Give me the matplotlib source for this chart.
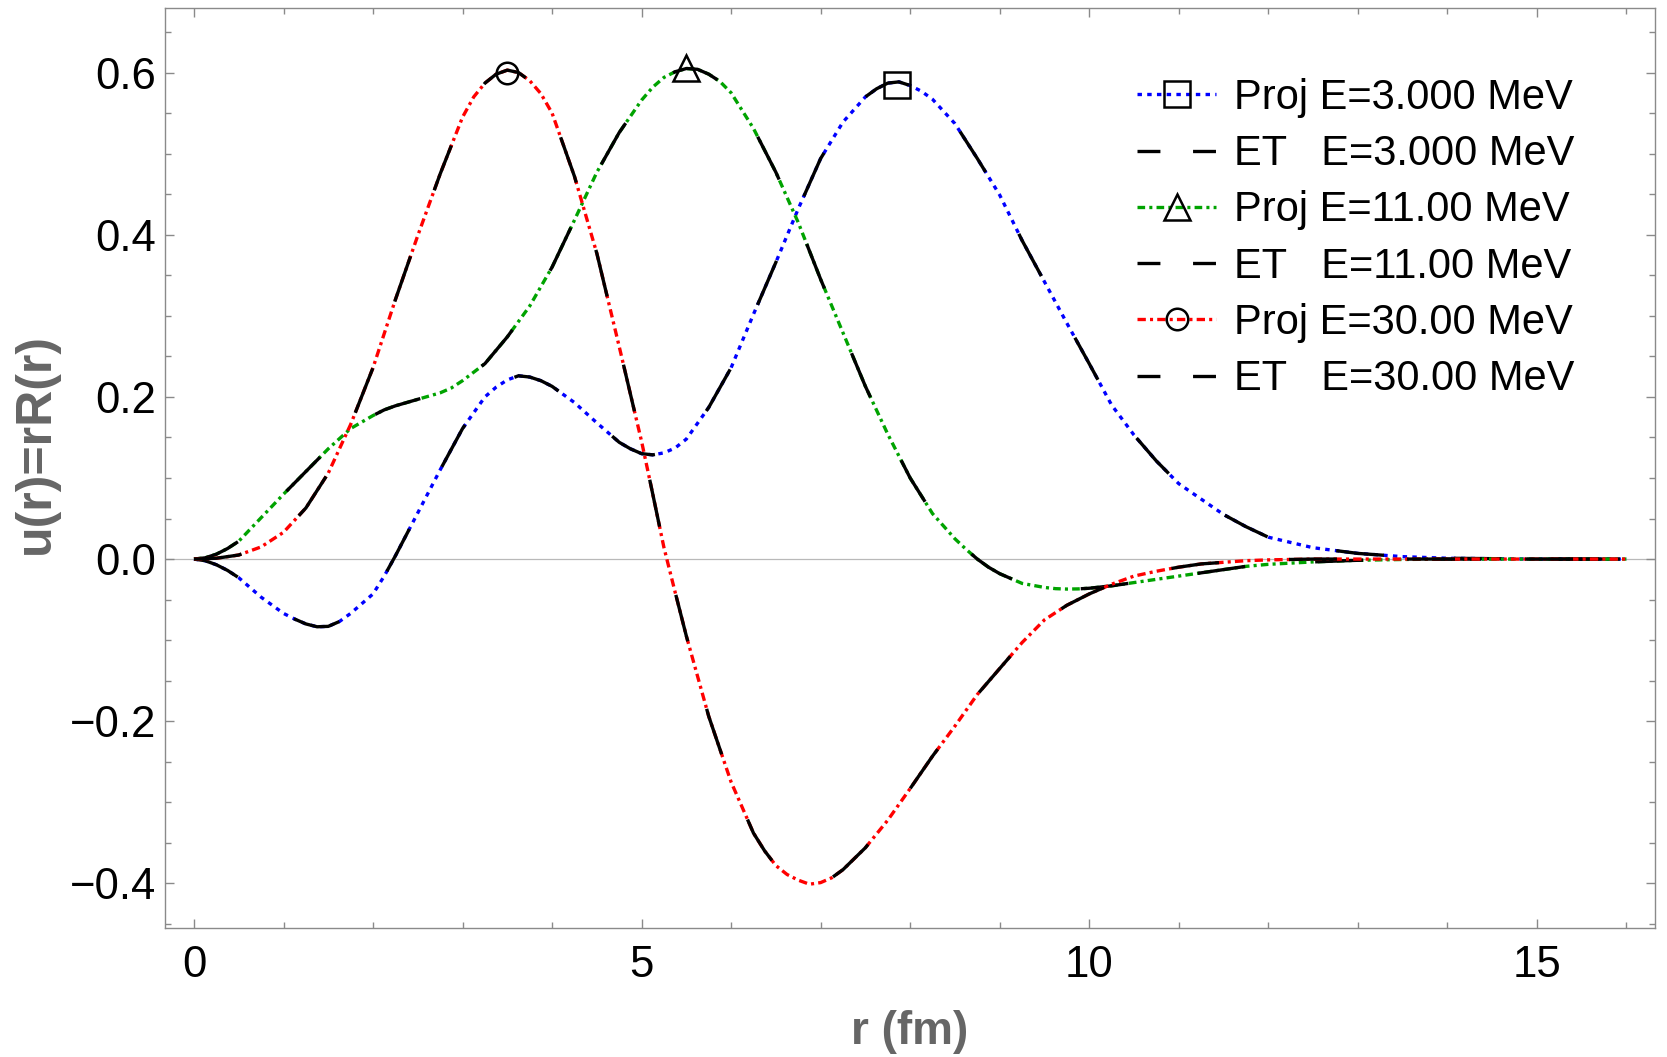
import matplotlib
matplotlib.use("Agg")
import matplotlib.pyplot as plt
from matplotlib.lines import Line2D
from matplotlib.ticker import MultipleLocator, FuncFormatter

plt.rcParams["font.family"] = ["Liberation Sans", "DejaVu Sans"]
plt.rcParams["lines.scale_dashes"] = False

# E = 3 MeV
r_3 = [0.0, 0.125, 0.25, 0.375, 0.5, 0.75, 1.0, 1.125, 1.25, 1.375,
       1.5, 1.625, 1.75, 2.0, 2.125, 2.25, 2.5, 2.75, 3.0, 3.25,
       3.375, 3.5, 3.625, 3.75, 3.875, 4.0, 4.25, 4.5, 4.75, 4.875,
       5.0, 5.125, 5.25, 5.375, 5.5, 5.75, 6.0, 6.25, 6.5, 6.75,
       7.0, 7.25, 7.5, 7.625, 7.75, 7.875, 8.0, 8.125, 8.25, 8.5,
       8.75, 9.0, 9.25, 9.5, 9.75, 10.0, 10.25, 10.5, 10.75, 11.0,
       11.25, 11.5, 11.75, 12.0, 12.5, 13.0, 13.5, 14.0, 14.5, 15.0,
       15.5, 16.0]
u_3 = [0.0, -0.002, -0.007, -0.014, -0.023, -0.047, -0.067, -0.074, -0.080, -0.0835,
       -0.083, -0.077, -0.067, -0.043, -0.021, 0.004, 0.057, 0.110, 0.161, 0.200,
       0.212, 0.221, 0.226, 0.2245, 0.220, 0.213, 0.193, 0.168, 0.144, 0.136,
       0.130, 0.1285, 0.131, 0.137, 0.148, 0.187, 0.236, 0.302, 0.366, 0.432,
       0.494, 0.539, 0.570, 0.580, 0.587, 0.5885, 0.584, 0.577, 0.567, 0.537,
       0.494, 0.449, 0.393, 0.342, 0.291, 0.241, 0.190, 0.153, 0.121, 0.093,
       0.074, 0.055, 0.040, 0.027, 0.014, 0.007, 0.003, 0.001, 0.0005, 0.0,
       0.0, 0.0]

# E = 11 MeV
r_11 = [0.0, 0.125, 0.25, 0.375, 0.5, 0.75, 1.0, 1.25, 1.5, 1.75,
        2.0, 2.125, 2.25, 2.375, 2.5, 2.625, 2.75, 2.875, 3.0, 3.25,
        3.5, 3.75, 4.0, 4.25, 4.5, 4.75, 5.0, 5.125, 5.25, 5.375,
        5.5, 5.625, 5.75, 5.875, 6.0, 6.25, 6.5, 6.75, 7.0, 7.25,
        7.5, 7.75, 8.0, 8.25, 8.5, 8.625, 8.75, 8.875, 9.0, 9.25,
        9.5, 9.625, 9.75, 9.875, 10.0, 10.25, 10.5, 10.75, 11.0, 11.25,
        11.5, 11.75, 12.0, 12.5, 13.0, 13.5, 14.0, 15.0, 16.0]
u_11 = [0.0, 0.0015, 0.006, 0.013, 0.022, 0.051, 0.080, 0.108, 0.136, 0.161,
        0.177, 0.184, 0.189, 0.193, 0.197, 0.201, 0.205, 0.211, 0.220, 0.241,
        0.274, 0.312, 0.360, 0.418, 0.477, 0.526, 0.566, 0.582, 0.594, 0.601,
        0.605, 0.604, 0.598, 0.589, 0.575, 0.531, 0.477, 0.415, 0.345, 0.279,
        0.213, 0.154, 0.100, 0.056, 0.025, 0.012, 0.000, -0.010, -0.018, -0.030,
        -0.035, -0.0365, -0.037, -0.0368, -0.036, -0.033, -0.029, -0.025, -0.021, -0.017,
        -0.013, -0.009, -0.0065, -0.0035, -0.0015, -0.0005, 0.0, 0.0, 0.0]

# E = 30 MeV
r_30 = [0.0, 0.25, 0.5, 0.75, 1.0, 1.25, 1.5, 1.75, 2.0, 2.25,
        2.5, 2.75, 3.0, 3.125, 3.25, 3.375, 3.5, 3.625, 3.75, 3.875,
        4.0, 4.25, 4.5, 4.75, 5.0, 5.125, 5.25, 5.375, 5.5, 5.75,
        6.0, 6.25, 6.375, 6.5, 6.625, 6.75, 6.875, 7.0, 7.125, 7.25,
        7.5, 7.75, 8.0, 8.25, 8.5, 8.75, 9.0, 9.25, 9.5, 9.75,
        10.0, 10.25, 10.5, 10.75, 11.0, 11.25, 11.5, 11.75, 12.0, 12.5,
        13.0, 14.0, 15.0, 16.0]
u_30 = [0.0, 0.001, 0.005, 0.015, 0.033, 0.063, 0.106, 0.166, 0.236, 0.320,
        0.399, 0.475, 0.545, 0.570, 0.587, 0.598, 0.603, 0.600, 0.590, 0.574,
        0.550, 0.472, 0.377, 0.262, 0.145, 0.080, 0.014, -0.041, -0.095, -0.194,
        -0.275, -0.338, -0.360, -0.378, -0.389, -0.396, -0.401, -0.399, -0.393, -0.383,
        -0.356, -0.322, -0.283, -0.243, -0.206, -0.167, -0.135, -0.103, -0.075, -0.057,
        -0.043, -0.031, -0.021, -0.015, -0.010, -0.006, -0.004, -0.002, -0.001, 0.0,
        0.0, 0.0, 0.0, 0.0]

# ET results lie on top of the projected ones
et_3 = u_3
et_11 = u_11
et_30 = u_30

# marker positions (peaks)
peak_r = [7.85, 5.50, 3.50]
peak_u = [0.585, 0.606, 0.600]
markers = ["s", "^", "o"]
marker_sizes = [19, 19, 15.5]

labels = ["Proj E=3.000 MeV", "ET   E=3.000 MeV",
          "Proj E=11.00 MeV", "ET   E=11.00 MeV",
          "Proj E=30.00 MeV", "ET   E=30.00 MeV"]

colors = ["#0000ff", "#00a300", "#ff0000"]
proj_dashes = [(3.2, 3.8), (5.5, 3.0, 2.2, 3.0), (6.0, 3.0, 2.2, 3.0)]
et_dashes = (34.5, 50.5)
lw = 2.4

fig = plt.figure(figsize=(16.67, 10.57), dpi=100)
ax = fig.add_axes([0.09886, 0.12204, 0.89394, 0.86992])

ax.axhline(0, color="#b9b9b9", lw=0.9, zorder=1)

r_sets = [r_3, r_11, r_30]
proj_sets = [u_3, u_11, u_30]
et_sets = [et_3, et_11, et_30]
for i in range(3):
    ax.plot(r_sets[i], proj_sets[i], color=colors[i], lw=lw, dashes=proj_dashes[i],
            dash_capstyle="butt", zorder=2 + 2 * i)
    ax.plot(r_sets[i], et_sets[i], color="black", lw=lw, dashes=et_dashes,
            dash_capstyle="butt", zorder=3 + 2 * i)
    ax.plot([peak_r[i]], [peak_u[i]], linestyle="none", marker=markers[i],
            ms=marker_sizes[i], mfc="none", mec="black", mew=1.8, zorder=10)

ax.set_xlim(-0.326, 16.32)
ax.set_ylim(-0.455, 0.679)

ax.xaxis.set_major_locator(MultipleLocator(5))
ax.xaxis.set_minor_locator(MultipleLocator(1))
ax.yaxis.set_major_locator(MultipleLocator(0.2))
ax.yaxis.set_minor_locator(MultipleLocator(0.05))
ax.yaxis.set_major_formatter(
    FuncFormatter(lambda v, p: f"{round(v, 1) + 0.0:.1f}".replace("-", "\u2212")))

frame_col = "#8a8a8a"
for s in ax.spines.values():
    s.set_color(frame_col)
    s.set_linewidth(1.0)
ax.tick_params(which="both", direction="in", top=True, right=True,
               color=frame_col, width=1.0, labelsize=31.5, labelcolor="black")
ax.tick_params(which="major", length=6.5)
ax.tick_params(which="minor", length=4.0)
ax.tick_params(axis="x", pad=12)
ax.tick_params(axis="y", pad=6)

ax.set_xlabel("r (fm)", fontsize=33, fontweight="bold", color="#666666")
ax.set_ylabel("u(r)=rR(r)", fontsize=36, fontweight="bold", color="#666666")
ax.xaxis.set_label_coords(0.5, -0.089)
ax.yaxis.set_label_coords(-0.071, 0.527)

# legend proxies
handles = []
for i in range(3):
    handles.append(Line2D([], [], color=colors[i], lw=lw, dashes=proj_dashes[i],
                          dash_capstyle="butt", marker=markers[i], ms=marker_sizes[i],
                          mfc="none", mec="black", mew=1.8))
    handles.append(Line2D([], [], color="black", lw=lw, dashes=(16.5, 23.5),
                          dash_capstyle="butt"))

ax.legend(handles, labels, loc="upper left", frameon=False, fontsize=30,
          bbox_to_anchor=(1137 / 1667, 1 - 78 / 1057), bbox_transform=fig.transFigure,
          borderpad=0, borderaxespad=0, handlelength=1.9, handletextpad=0.43,
          labelspacing=0.39, numpoints=1)

fig.savefig("out.png", dpi=100)
